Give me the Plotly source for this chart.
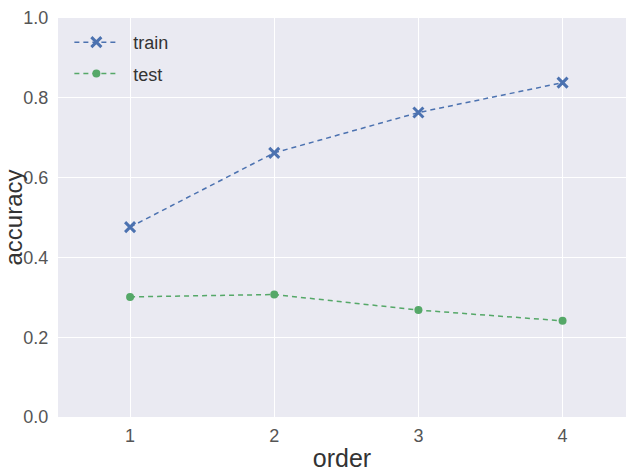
import plotly.graph_objects as go

order = [1, 2, 3, 4]
train_acc = [0.476, 0.662, 0.763, 0.838]
test_acc = [0.301, 0.307, 0.268, 0.241]
y_ticks = [0.0, 0.2, 0.4, 0.6, 0.8, 1.0]
y_tick_labels = ["0.0", "0.2", "0.4", "0.6", "0.8", "1.0"]
series_names = ["\u00a0\u00a0train", "\u00a0\u00a0test"]

fig = go.Figure()
fig.add_trace(go.Scatter(
    x=order, y=train_acc, name=series_names[0], mode="lines+markers", legendgroup="a",
    line=dict(color="#4C72B0", width=1.5, dash="5px,4px"),
    marker=dict(symbol="x-thin", size=10, line=dict(color="#4C72B0", width=3), color="#4C72B0"),
))
fig.add_trace(go.Scatter(
    x=order, y=test_acc, name=series_names[1], mode="lines+markers", legendgroup="b",
    line=dict(color="#55A868", width=1.5, dash="5px,4px"),
    marker=dict(symbol="circle", size=8, color="#55A868"),
))

fig.update_layout(
    width=626, height=472,
    margin=dict(l=58, r=0, t=18, b=55),
    paper_bgcolor="white", plot_bgcolor="#EAEAF2",
    font=dict(family="Liberation Sans, Arial, sans-serif", color="#333333"),
    showlegend=True,
    legend=dict(x=0.02, y=0.985, xanchor="left", yanchor="top",
                bgcolor="rgba(0,0,0,0)", font=dict(size=18, color="#333333"),
                itemwidth=44, tracegroupgap=5),
    xaxis=dict(range=[0.5, 4.44], tickvals=order, ticktext=[str(o) for o in order],
               showgrid=True, gridcolor="white", gridwidth=1, zeroline=False,
               showline=False, ticks="outside", ticklen=2, tickcolor="rgba(0,0,0,0)",
               tickfont=dict(size=18, color="#555555"), automargin=False,
               title=dict(text="order", font=dict(size=25, color="#333333"), standoff=6)),
    yaxis=dict(range=[0, 1], tickvals=y_ticks, ticktext=y_tick_labels,
               showgrid=True, gridcolor="white", gridwidth=1, zeroline=False,
               showline=False, ticks="outside", ticklen=5, tickcolor="rgba(0,0,0,0)",
               tickfont=dict(size=18, color="#555555"), automargin=False,
               title=dict(text="accuracy", font=dict(size=24, color="#333333"), standoff=0)),
)

fig.write_html("out.html")
